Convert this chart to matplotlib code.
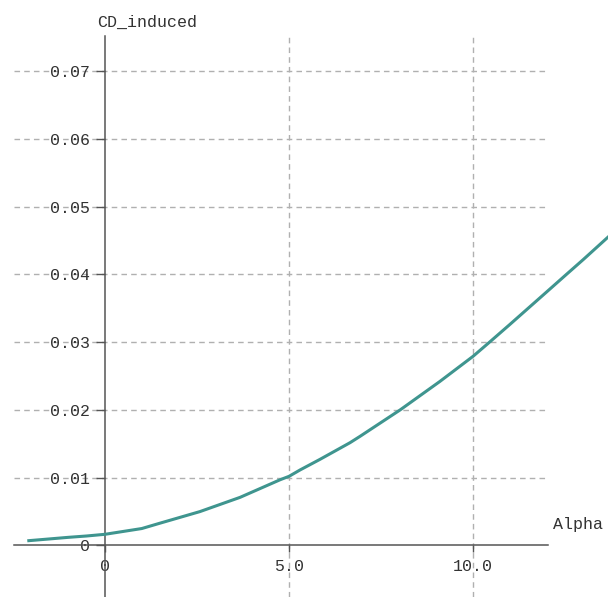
import numpy as np
import matplotlib
matplotlib.use('Agg')
import matplotlib.pyplot as plt

# values
alpha = [-2.07, -1.5, -1.0, -0.5, 0.0, 1.0, 1.5, 2.58, 3.67, 4.76, 5.0, 5.3,
         5.84, 6.66, 6.93, 8.02, 9.1, 10.0, 10.45, 11.0, 12.0, 12.54, 13.0, 13.67]
cd_induced = [0.00071, 0.00097, 0.0012, 0.0014, 0.00165, 0.0025, 0.0033,
              0.0050, 0.0071, 0.0097, 0.0102, 0.01114, 0.0127, 0.01517, 0.0161,
              0.0200, 0.0242, 0.0279, 0.0300, 0.0326, 0.0374, 0.0400, 0.0422, 0.0455]

y_ticks = [0, 0.01, 0.02, 0.03, 0.04, 0.05, 0.06, 0.07]
y_labels = ['0', '0.01', '0.02', '0.03', '0.04', '0.05', '0.06', '0.07']
x_ticks = [0, 5, 10]
x_labels = ['0', '5.0', '10.0']

plt.rcParams['font.family'] = ['Liberation Mono', 'DejaVu Sans Mono']

fig = plt.figure(figsize=(6.08, 5.97), dpi=100)
ax = fig.add_axes([0, 0, 1, 1])
ax.patch.set_alpha(0)

ax.set_xlim(-2.853, 13.668)
ax.set_ylim(-0.0076, 0.08047)

grid_col = '#b0b0b0'
# horizontal grid
for yv in y_ticks[1:]:
    ax.plot([-2.47, 12.04], [yv, yv], color=grid_col, lw=1, ls=(0, (4, 3)), zorder=1)
# vertical grid
for xv in x_ticks[1:]:
    ax.plot([xv, xv], [-0.0076, 0.0754], color=grid_col, lw=1, ls=(0, (4, 3)), zorder=1)

ax.plot(alpha, cd_induced, color='#3f958f', lw=2.2, zorder=3)

for s in ['top', 'right']:
    ax.spines[s].set_visible(False)
ax.spines['left'].set_position(('data', 0))
ax.spines['bottom'].set_position(('data', 0))
ax.spines['left'].set_bounds(-0.0076, 0.0752)
ax.spines['bottom'].set_bounds(-2.47, 12.04)
for s in ['left', 'bottom']:
    ax.spines[s].set_color('#555555')
    ax.spines[s].set_linewidth(1.1)
    ax.spines[s].set_zorder(2)

ax.set_yticks(y_ticks)
ax.set_yticklabels(y_labels)
ax.set_xticks(x_ticks)
ax.set_xticklabels(x_labels)
ax.tick_params(axis='y', length=6.5, width=1, color='#555555', pad=4,
               labelsize=12, labelcolor='#333333')
ax.tick_params(axis='x', length=5, width=1, color='#555555', pad=5,
               labelsize=12, labelcolor='#333333')

fig.text(97 / 608, 1 - 22 / 597, 'CD_induced', ha='left', va='center',
         fontsize=12, color='#333333')
fig.text(553 / 608, 1 - 525 / 597, 'Alpha', ha='left', va='center',
         fontsize=12, color='#333333')

fig.savefig('out.png', dpi=100)
